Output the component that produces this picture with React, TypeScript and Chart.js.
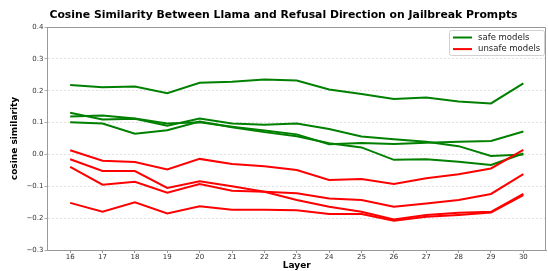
import React, { useEffect, useRef } from "react";
import { Chart, registerables } from "chart.js";

Chart.register(...registerables);

const TITLE = "Cosine Similarity Between Llama and Refusal Direction on Jailbreak Prompts";
const X_TITLE = "Layer";
const Y_TITLE = "cosine similarity";
const LEGEND_LABELS = ["safe models", "unsafe models"];

const LAYERS = [16, 17, 18, 19, 20, 21, 22, 23, 24, 25, 26, 27, 28, 29, 30];
const Y_TICKS = [-0.3, -0.2, -0.1, 0.0, 0.1, 0.2, 0.3, 0.4];

const SAFE_1 = [0.218, 0.211, 0.213, 0.192, 0.225, 0.228, 0.235, 0.232, 0.204, 0.19, 0.174, 0.179, 0.166, 0.16, 0.223];
const SAFE_2 = [0.131, 0.11, 0.112, 0.09, 0.113, 0.097, 0.093, 0.097, 0.08, 0.056, 0.048, 0.04, 0.026, -0.005, 0.0];
const SAFE_3 = [0.119, 0.122, 0.113, 0.097, 0.101, 0.087, 0.075, 0.063, 0.032, 0.036, 0.033, 0.037, 0.04, 0.042, 0.072];
const SAFE_4 = [0.101, 0.097, 0.065, 0.076, 0.103, 0.085, 0.07, 0.057, 0.035, 0.022, -0.017, -0.015, -0.023, -0.033, 0.003];

const UNSAFE_1 = [0.013, -0.02, -0.024, -0.047, -0.014, -0.03, -0.037, -0.049, -0.08, -0.077, -0.093, -0.075, -0.062, -0.044, 0.014];
const UNSAFE_2 = [-0.015, -0.052, -0.052, -0.105, -0.084, -0.1, -0.117, -0.143, -0.164, -0.18, -0.204, -0.19, -0.183, -0.18, -0.124];
const UNSAFE_3 = [-0.039, -0.095, -0.086, -0.12, -0.093, -0.114, -0.117, -0.122, -0.138, -0.143, -0.164, -0.154, -0.143, -0.124, -0.062];
const UNSAFE_4 = [-0.152, -0.18, -0.15, -0.185, -0.163, -0.174, -0.174, -0.175, -0.187, -0.187, -0.208, -0.196, -0.19, -0.182, -0.128];

const SAFE_SERIES = [SAFE_1, SAFE_2, SAFE_3, SAFE_4];
const UNSAFE_SERIES = [UNSAFE_1, UNSAFE_2, UNSAFE_3, UNSAFE_4];

const GREEN = "#008000";
const RED = "#ff0000";
const FONT = "'DejaVu Sans', 'Liberation Sans', sans-serif";

const toPoints = (vals: number[]) => LAYERS.map((x, i) => ({ x, y: vals[i] }));

const framePlugin = {
  id: "frame",
  afterDraw(chart: any) {
    const { ctx, chartArea } = chart;
    const { left, right, top, bottom } = chartArea;
    ctx.save();
    ctx.strokeStyle = "#999999";
    ctx.lineWidth = 1;
    ctx.beginPath();
    ctx.moveTo(left, top + 0.5);
    ctx.lineTo(right - 0.5, top + 0.5);
    ctx.lineTo(right - 0.5, bottom);
    ctx.stroke();

    // title
    ctx.fillStyle = "#000";
    ctx.font = `bold 10.85px ${FONT}`;
    ctx.textAlign = "center";
    ctx.textBaseline = "middle";
    ctx.fillText(TITLE, 283.5, 15);

    // legend
    const bx = right - 97;
    const by = top + 3;
    const bw = 95;
    const bh = 25;
    ctx.fillStyle = "rgba(255,255,255,0.85)";
    ctx.strokeStyle = "#d0d0d0";
    ctx.lineWidth = 1;
    ctx.beginPath();
    ctx.roundRect(bx + 0.5, by + 0.5, bw, bh, 2);
    ctx.fill();
    ctx.stroke();
    const colors = [GREEN, RED];
    ctx.font = `8.5px ${FONT}`;
    ctx.textBaseline = "middle";
    ctx.textAlign = "left";
    LEGEND_LABELS.forEach((lab, i) => {
      const y = by + 7.5 + i * 11.6;
      ctx.strokeStyle = colors[i];
      ctx.lineWidth = 2;
      ctx.beginPath();
      ctx.moveTo(bx + 4, y);
      ctx.lineTo(bx + 23, y);
      ctx.stroke();
      ctx.fillStyle = "#222";
      ctx.fillText(lab, bx + 29, y);
    });
    ctx.restore();
  },
};

export default function App() {
  const ref = useRef<HTMLCanvasElement | null>(null);

  useEffect(() => {
    document.body.style.margin = "0";
    document.body.style.overflow = "hidden";
    const canvas = ref.current;
    if (!canvas) return;
    const datasets: any[] = [];
    SAFE_SERIES.forEach((s, i) => {
      datasets.push({
        label: `safe ${i + 1}`,
        data: toPoints(s),
        borderColor: GREEN,
        backgroundColor: GREEN,
        borderWidth: 2,
        pointRadius: 0,
        tension: 0,
        fill: false,
        order: 2,
      });
    });
    UNSAFE_SERIES.forEach((s, i) => {
      datasets.push({
        label: `unsafe ${i + 1}`,
        data: toPoints(s),
        borderColor: RED,
        backgroundColor: RED,
        borderWidth: 2,
        pointRadius: 0,
        tension: 0,
        fill: false,
        order: 1,
      });
    });

    const chart = new Chart(canvas, {
      type: "line",
      data: { datasets },
      plugins: [framePlugin],
      options: {
        responsive: false,
        animation: false,
        devicePixelRatio: 1,
        layout: { padding: { left: 0, right: 2, top: 27, bottom: 0 } },
        plugins: {
          legend: { display: false },
          tooltip: { enabled: false },
          title: { display: false },
        },
        scales: {
          x: {
            type: "linear",
            min: 15.3,
            max: 30.7,
            afterBuildTicks: (scale: any) => {
              scale.ticks = LAYERS.map((v) => ({ value: v }));
            },
            afterFit: (scale: any) => {
              scale.height = 21;
            },
            grid: {
              display: true,
              drawOnChartArea: false,
              drawTicks: true,
              tickLength: 3,
              tickColor: "#999999",
            },
            border: { display: true, color: "#999999", width: 1 },
            ticks: {
              color: "#333",
              font: { family: FONT, size: 7 },
              padding: 0,
              maxRotation: 0,
              autoSkip: false,
              callback: (v: any) => String(v),
            },
            title: {
              display: true,
              text: X_TITLE,
              color: "#000",
              font: { family: FONT, size: 9, weight: "bold", lineHeight: 1.2 },
              padding: { top: 0, bottom: 0 },
            },
          },
          y: {
            type: "linear",
            min: -0.3,
            max: 0.4,
            afterBuildTicks: (scale: any) => {
              scale.ticks = Y_TICKS.map((v) => ({ value: v }));
            },
            afterFit: (scale: any) => {
              scale.width = 47.5;
            },
            grid: {
              display: true,
              drawOnChartArea: true,
              drawTicks: true,
              tickLength: 3,
              color: "#d8d8d8",
              lineWidth: 0.8,
              tickColor: "#999999",
            },
            border: { display: true, color: "#999999", width: 1, dash: [2, 2] },
            ticks: {
              color: "#333",
              font: { family: FONT, size: 7 },
              padding: 1,
              autoSkip: false,
              callback: (v: any) => {
                const n = Number(v);
                const s = Math.abs(n).toFixed(1);
                return n < -1e-9 ? "\u2212" + s : s;
              },
            },
            title: {
              display: true,
              text: Y_TITLE,
              color: "#000",
              font: { family: FONT, size: 9, weight: "bold", lineHeight: 1.2 },
              padding: { top: 9.6, bottom: 0 },
            },
          },
        },
      },
    } as any);
    return () => chart.destroy();
  }, []);

  return (
    <div style={{ width: 548, height: 271 }}>
      <canvas ref={ref} width={548} height={271} style={{ display: "block" }} />
    </div>
  );
}
